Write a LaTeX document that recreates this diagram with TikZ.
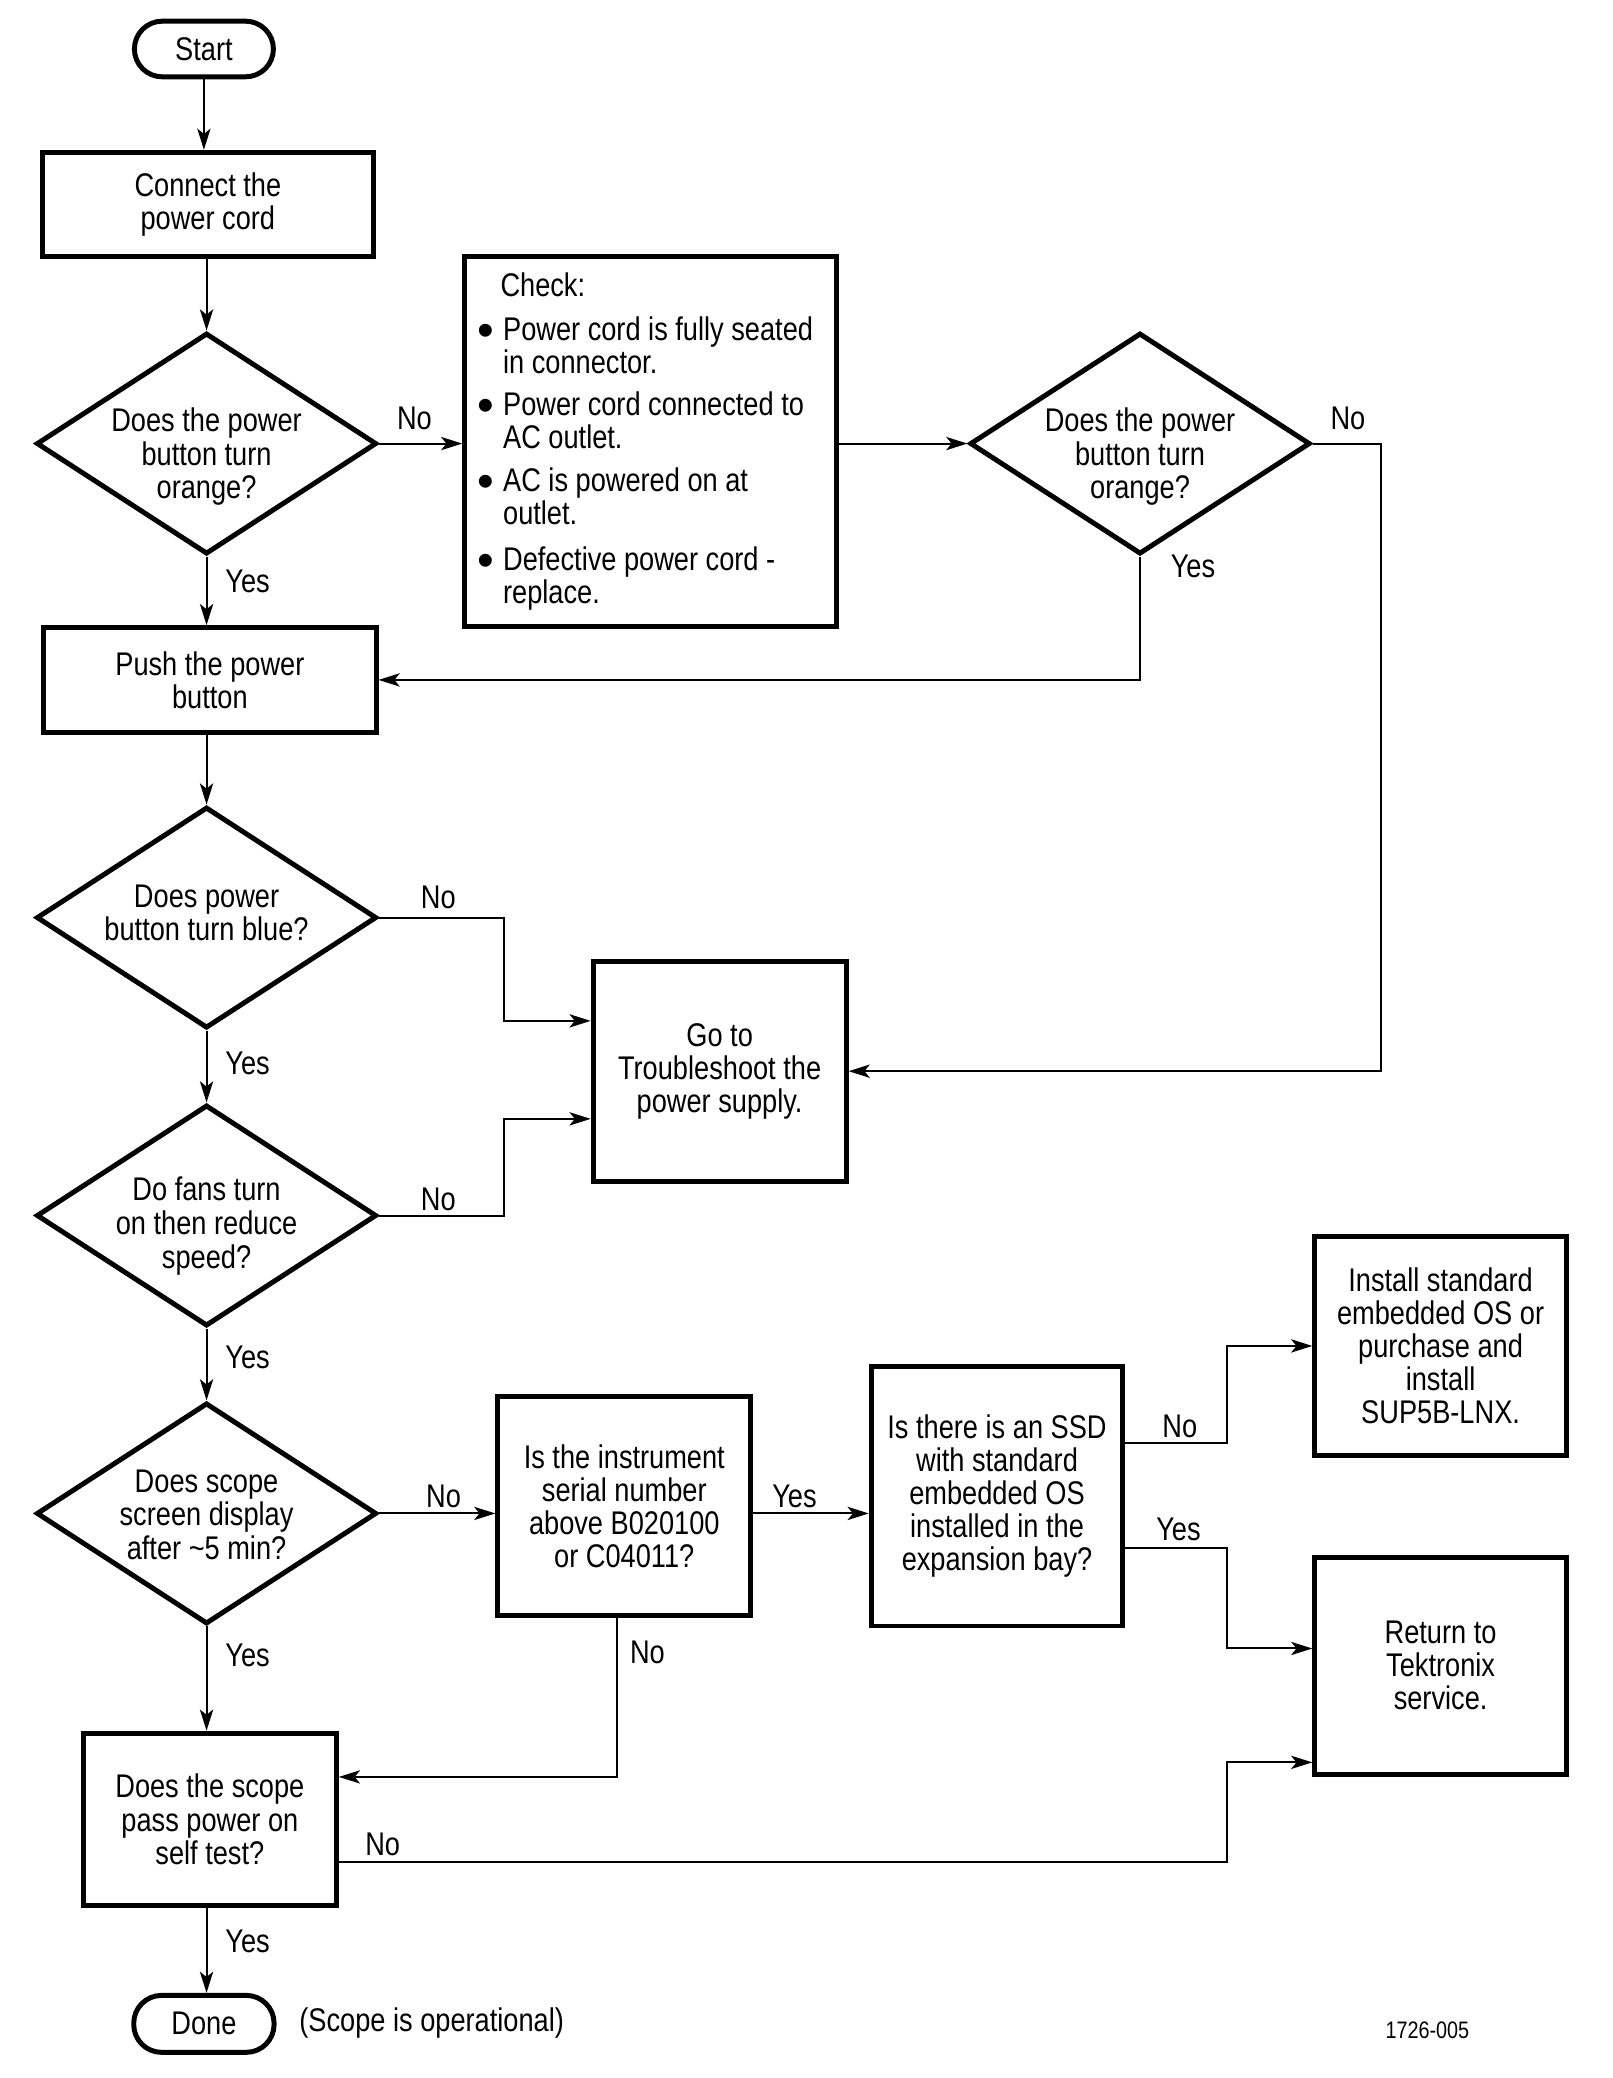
\documentclass[tikz,border=0pt]{standalone}
\usepackage{fontspec}
\setmainfont{Liberation Sans}[FakeStretch=0.83]
\usetikzlibrary{shapes.geometric,arrows.meta,calc}
\newcommand{\dtxt}[2]{\raisebox{#1}[0pt][0pt]{\begin{tabular}[t]{@{}c@{}}#2\end{tabular}}}
\newcommand{\bul}{\hspace*{5pt}\makebox[19pt][l]{\raisebox{-4.5pt}{\scalebox{1.75}[1.45]{\textbullet}}}}
\newcommand{\ind}{\hspace*{24pt}}
\begin{document}
\begin{tikzpicture}[x=1pt,y=-1pt,
  font=\fontsize{24.75}{25}\selectfont,
  box/.style={draw,line width=3.75pt,align=center,inner sep=2pt},
  term/.style={box,rounded corners=21pt},
  dec/.style={draw,diamond,line width=3.75pt,align=center,inner sep=-10pt,minimum width=257pt,minimum height=167pt},
  arr/.style={line width=1.5pt,-{Stealth[length=16pt,width=10pt,inset=4pt]}},
  lbl/.style={inner sep=0pt}]
\useasboundingbox (0,0) rectangle (1218.2,1569.4);
% nodes
\node[term,minimum width=105pt,minimum height=42pt] (start) at (154,37) {Start};
\node[box,minimum width=250pt,minimum height=79pt] (connect) at (157,154.5) {Connect the\\power cord};
\node[dec] (d1) at (156,335) {\dtxt{9pt}{Does the power\\button turn\\orange?}};
\node[box,minimum width=281pt,minimum height=279pt,text width=271pt,inner xsep=5pt,align=flush left] (check) at (491.5,333.5) {%
\hspace*{22pt}Check:\\[8pt]
\bul Power cord is fully seated\\
\ind in connector.\\[7pt]
\bul Power cord connected to\\
\ind AC outlet.\\[7pt]
\bul AC is powered on at\\
\ind outlet.\\[10pt]
\bul Defective power cord -\\
\ind replace.};
\node[dec] (d2) at (861,335) {\dtxt{9pt}{Does the power\\button turn\\orange?}};
\node[box,minimum width=251pt,minimum height=79pt] (push) at (158.5,513.5) {Push the power\\button};
\node[dec] (d3) at (156,693) {\dtxt{8pt}{Does power\\button turn blue?}};
\node[dec] (d4) at (156,918) {\dtxt{11pt}{Do fans turn\\on then reduce\\speed?}};
\node[dec] (d5) at (156,1143) {\dtxt{16pt}{Does scope\\screen display\\after \textasciitilde5 min?}};
\node[box,minimum width=191pt,minimum height=166pt] (ts) at (543.5,809) {Go to\\Troubleshoot the\\power supply.};
\node[box,minimum width=191pt,minimum height=165pt] (serial) at (471.5,1137.5) {Is the instrument\\serial number\\above B020100\\or C04011?};
\node[box,minimum width=190pt,minimum height=196pt] (ssd) at (753,1130) {Is there is an SSD\\with standard\\embedded OS\\installed in the\\expansion bay?};
\node[box,minimum width=190pt,minimum height=165pt] (install) at (1088,1016.5) {Install standard\\embedded OS or\\purchase and\\install\\SUP5B-LNX.};
\node[box,minimum width=190pt,minimum height=164pt] (ret) at (1088,1258) {Return to\\Tektronix\\service.};
\node[box,minimum width=191pt,minimum height=130pt] (self) at (158.5,1374) {Does the scope\\pass power on\\self test?};
\node[term,minimum width=106pt,minimum height=43pt] (done) at (154,1528.5) {Done};
\node[lbl] (oper) at (326,1528) {(Scope is operational)};
\node[lbl,font=\fontsize{18}{20}\selectfont] (fig) at (1078,1533) {1726-005};
% bend coordinates
\coordinate (j2) at (1043,809);
\coordinate (j3) at (381,771);
\coordinate (j4) at (381,845);
\coordinate (j5) at (927,1090);
\coordinate (j6) at (927,1169);
\coordinate (j7) at (927,1245);
\coordinate (j8) at (927,1406);
\coordinate (j9) at (927,1331);
\coordinate (j10) at (466,1342);
% connectors
\draw[arr] (start.south) -- (start.south |- connect.north);
\draw[arr] (connect.south -| d1.north) -- (d1.north);
\draw[arr] (d1.east) -- (check.west |- d1.east);
\draw[arr] (d1.south) -- (d1.south |- push.north);
\draw[arr] (check.east |- d2.west) -- (d2.west);
\draw[arr] (d2.south) |- (push.east);
\draw[arr] (d2.east) -| (j2) -- (ts.east);
\draw[arr] (push.south -| d3.north) -- (d3.north);
\draw[arr] (d3.east) -| (j3) -- (j3 -| ts.west);
\draw[arr] (d3.south) -- (d4.north);
\draw[arr] (d4.east) -| (j4) -- (j4 -| ts.west);
\draw[arr] (d4.south) -- (d5.north);
\draw[arr] (d5.east) -- (serial.west |- d5.east);
\draw[arr] (serial.east |- d5.east) -- (ssd.west |- d5.east);
\draw[arr] (j5 -| ssd.east) -- (j5) |- (install.west);
\draw[arr] (j6 -| ssd.east) -- (j6) -- (j7) -- (j7 -| ret.west);
\draw[arr] (j10 |- serial.south) -- (j10) -- (j10 -| self.east);
\draw[arr] (d5.south) -- (d5.south |- self.north);
\draw[arr] (j8 -| self.east) -- (j8) -- (j9) -- (j9 -| ret.west);
\draw[arr] (self.south -| d5.south) -- (d5.south |- done.north);
% labels
\node[lbl] (n1) at (313,316) {No};
\node[lbl] (y1) at (187,439) {Yes};
\node[lbl] (n2) at (1018,316) {No};
\node[lbl] (y2) at (901,428) {Yes};
\node[lbl] (n3) at (331,678) {No};
\node[lbl] (y3) at (187,803) {Yes};
\node[lbl] (n4) at (331,906) {No};
\node[lbl] (y4) at (187,1025) {Yes};
\node[lbl] (n5) at (335,1130) {No};
\node[lbl] (y5) at (600,1130) {Yes};
\node[lbl] (n6) at (891,1077) {No};
\node[lbl] (y6) at (890,1155) {Yes};
\node[lbl] (n7) at (489,1248) {No};
\node[lbl] (y7) at (187,1250) {Yes};
\node[lbl] (n8) at (289,1393) {No};
\node[lbl] (y8) at (187,1466) {Yes};
\end{tikzpicture}
\end{document}
